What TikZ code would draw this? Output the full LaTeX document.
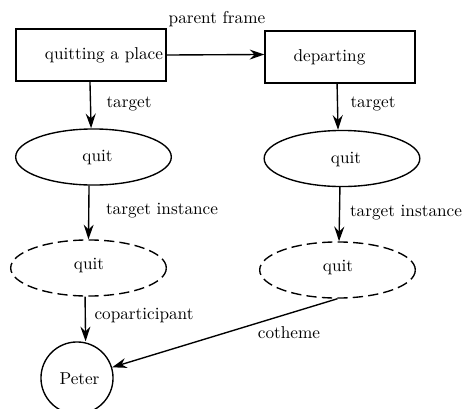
\documentclass[tikz,border=0pt]{standalone}
\usetikzlibrary{arrows.meta,shapes.geometric}
\begin{document}
\begin{tikzpicture}[x=0.5814pt,y=-0.5814pt,
  line width=0.8pt,
  frame/.style={draw,rectangle,minimum width=87.2pt,minimum height=30.2pt,inner sep=0pt},
  inst/.style={draw,ellipse,minimum width=90.5pt,minimum height=32.6pt,inner sep=0pt},
  virt/.style={inst,dash pattern=on 6pt off 3pt},
  ent/.style={draw,circle,minimum size=41.9pt,inner sep=0pt},
  rel/.style={-{Stealth[length=8.5pt,width=5.8pt,inset=2.8pt]}},
  lab/.style={inner sep=0pt,font=\normalsize}]
\useasboundingbox (0,0) rectangle (463,409);

% frames
\node[frame] (qp) at (91,55) {};
\node[lab] (qpt) at (104,55) {quitting a place};
\node[frame] (dep) at (340,57) {};
\node[lab] (dept) at (329.5,57) {departing};

% lexical units
\node[inst] (q1) at (93.5,157) {};
\node[lab] (q1t) at (97.5,158) {quit};
\node[inst] (q2) at (342,158.5) {};
\node[lab] (q2t) at (346,159.5) {quit};

% instances
\node[virt] (v1) at (88.5,268) {};
\node[lab] (v1t) at (89,266) {quit};
\node[virt] (v2) at (337.5,270) {};
\node[lab] (v2t) at (338,268) {quit};

% participant
\node[ent] (peter) at (77,378) {};
\node[lab] (petert) at (79.5,379) {Peter};

% relations
\draw[rel] (qp.east) -- ([yshift=0.3pt]qp.east -| dep.west);
\node[lab] (pf) at (217,19) {parent frame};

\draw[rel] ([xshift=-0.6pt]qp.south) -- ([xshift=-1.4pt]q1.north);
\node[lab] (t1) at (129,104) {target};
\draw[rel] ([xshift=-1.7pt]dep.south) -- ([xshift=-2.3pt]q2.north);
\node[lab] (t2) at (373,104) {target};

\draw[rel] ([xshift=-2.6pt]q1.south) -- (v1.north);
\node[lab] (ti1) at (162,211) {target instance};
\draw[rel] ([xshift=-1.2pt]q2.south) -- ([xshift=0.9pt]v2.north);
\node[lab] (ti2) at (406,213) {target instance};

\draw[rel] ([xshift=-2pt]v1.south) -- ([xshift=5pt]peter.north);
\node[lab] (cp) at (144,316) {coparticipant};
\draw[rel] (v2.south) -- (peter);
\node[lab] (ct) at (289,333) {cotheme};
\end{tikzpicture}
\end{document}
